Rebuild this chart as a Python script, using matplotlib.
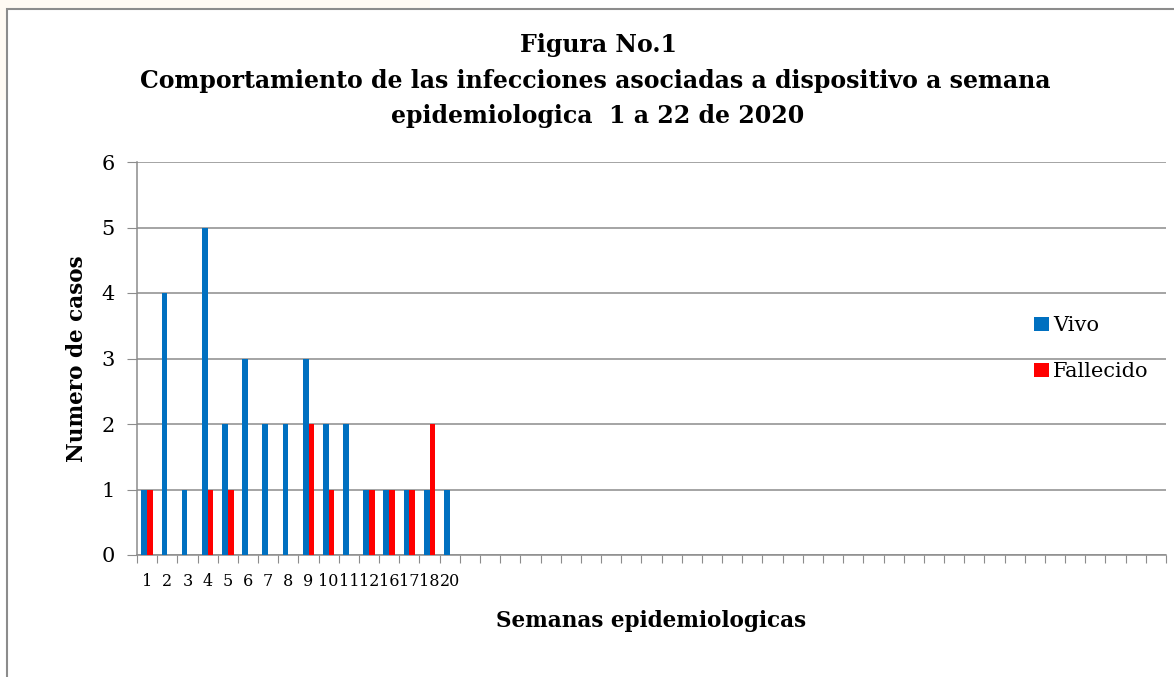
import numpy as np
import matplotlib
matplotlib.use("Agg")
import matplotlib.pyplot as plt
from matplotlib.patches import Rectangle

# ---- data ----
semanas = ["1", "2", "3", "4", "5", "6", "7", "8", "9", "10", "11", "12", "16", "17", "18", "20"]
vivo = [1, 4, 1, 5, 2, 3, 2, 2, 3, 2, 2, 1, 1, 1, 1, 1]
fallecido = [1, 0, 0, 1, 1, 0, 0, 0, 2, 1, 0, 1, 1, 1, 2, 0]
n_empty = 35  # empty category slots to the right

plt.rcParams["font.family"] = ["DejaVu Serif"]

fig = plt.figure(figsize=(11.74, 6.77), dpi=100)
W, H = 1174, 677

# faint page background peeking out around the chart (top-left)
fig.patches.append(Rectangle((0, 1 - 8 / H), 430 / W, 8 / H, transform=fig.transFigure,
                             fc="#fffaf3", ec="none", zorder=0))
fig.patches.append(Rectangle((0, 1 - 100 / H), 6 / W, 100 / H, transform=fig.transFigure,
                             fc="#fffaf3", ec="none", zorder=0))
# outer frame of the chart object (right/bottom edges fall outside the image)
fig.patches.append(Rectangle((6.5 / W, -0.05), 1.1, 1.05 - 8.5 / H, transform=fig.transFigure,
                             fill=False, ec="#8c8c8c", lw=1.5, zorder=1))

ax = fig.add_axes([137 / W, 1 - 555 / H, (1166 - 137) / W, (555 - 162) / H])

n_cat = len(semanas) + n_empty
xs = np.arange(len(semanas))
w = 1 / 3.5
ax.bar(xs - w / 2, vivo, width=w, color="#0070C0", label="Vivo", zorder=3)
ax.bar(xs + w / 2, fallecido, width=w, color="#FF0000", label="Fallecido", zorder=3)

ax.set_xlim(-0.5, n_cat - 0.5)
ax.set_ylim(0, 6)
ax.set_yticks(range(7))
ax.tick_params(axis="y", labelsize=15, length=7, color="#8c8c8c", pad=9)
ax.set_xticks(np.arange(n_cat + 1) - 0.5, minor=False)
ax.set_xticklabels([])
ax.set_xticks(xs, minor=True)
ax.set_xticklabels(semanas, minor=True)
ax.tick_params(axis="x", which="major", length=6, color="#8c8c8c")
ax.tick_params(axis="x", which="minor", length=0, labelsize=11.5, pad=13)
ax.yaxis.grid(True, color="#8c8c8c", lw=1.1, zorder=0)
ax.set_axisbelow(True)
for s in ["top", "right"]:
    ax.spines[s].set_visible(False)
ax.spines["left"].set_color("#8c8c8c")
ax.spines["bottom"].set_color("#8c8c8c")
ax.spines["left"].set_linewidth(1.1)
ax.spines["bottom"].set_linewidth(1.1)

ax.set_ylabel("Numero de casos", fontsize=15.5, fontweight="bold", labelpad=10)
ax.set_xlabel("Semanas epidemiologicas", fontsize=15.5, fontweight="bold", labelpad=14)

fig.text(598 / W, 1 - 45 / H, "Figura No.1", ha="center", va="center", fontsize=17, fontweight="bold")
fig.text(595 / W, 1 - 81 / H, "Comportamiento de las infecciones asociadas a dispositivo a semana",
         ha="center", va="center", fontsize=17, fontweight="bold")
fig.text(598 / W, 1 - 116 / H, "epidemiologica  1 a 22 de 2020", ha="center", va="center",
         fontsize=17, fontweight="bold")

leg = ax.legend(loc="upper left", bbox_to_anchor=(1026 / W, 1 - 308 / H), bbox_transform=fig.transFigure,
                frameon=False, fontsize=15, handlelength=0.7, handleheight=0.7, handletextpad=0.2,
                labelspacing=1.3, borderaxespad=0)

fig.savefig("out.png", dpi=100)
